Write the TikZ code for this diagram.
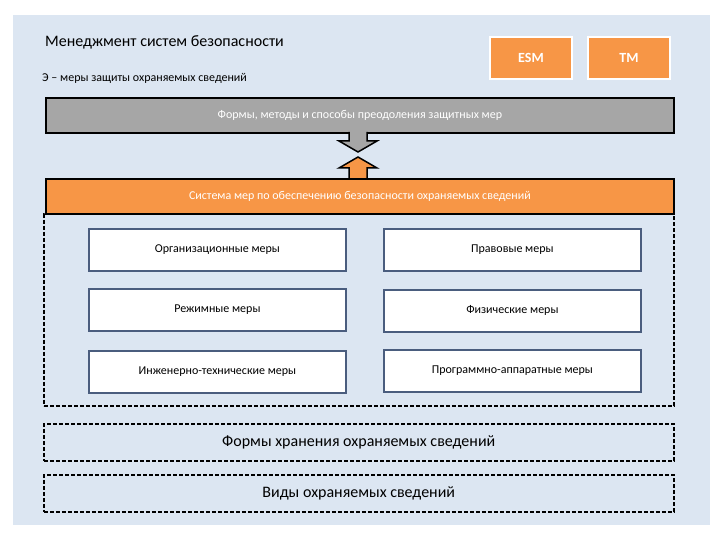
\documentclass[tikz,border=0pt]{standalone}
\usepackage{fontspec}
\setmainfont{Carlito}
\begin{document}
\begin{tikzpicture}[x=1pt,y=-1pt,
  inbox/.style={draw=boxb,line width=1.8pt,fill=white,minimum width=257pt,minimum height=42pt,font=\fontsize{12}{14}\selectfont,anchor=north west},
  dbox/.style={draw=black,dash pattern=on 4pt off 2pt,line width=1.5pt,anchor=north west},
  bar/.style={draw=black,line width=1.8pt,minimum width=628pt,minimum height=35pt,anchor=north west,text=white,font=\fontsize{12}{14}\selectfont},
  tag/.style={fill=orange0,draw=white,line width=2pt,minimum width=82pt,minimum height=42pt,anchor=north west,text=white,font=\bfseries\fontsize{14}{16}\selectfont}]
\definecolor{bg}{HTML}{DCE6F2}
\definecolor{orange0}{HTML}{F79646}
\definecolor{boxb}{HTML}{4A5D7E}
\fill[white] (0,0) rectangle (720,540);
\fill[bg] (13,15) rectangle (710,525);
\node[anchor=west,font=\fontsize{16}{18}\selectfont,inner sep=0pt] (title) at (45,42) {Менеджмент систем безопасности};
\node[anchor=west,font=\fontsize{12}{14}\selectfont,inner sep=0pt] (sub) at (42,78) {Э – меры защиты охраняемых сведений};
\node[tag] (esm) at (489,36) {ESM};
\node[tag] (tm) at (587,36) {TM};
\node[bar,fill=black!35] (g) at (45,97) {Формы, методы и способы преодоления защитных мер};
\node[bar,fill=orange0] (o) at (45,178) {Система мер по обеспечению безопасности охраняемых сведений};
\node[dbox,minimum width=630pt,minimum height=192pt] (cont) at (43,213) {};
\draw[line width=1.5pt,fill=black!35] (349,132) -- (349,141) -- (339,141) -- (358,152) -- (377,141) -- (367,141) -- (367,132);
\draw[line width=1.5pt,fill=orange0] (349,178) -- (349,168) -- (339,168) -- (358,157) -- (377,168) -- (367,168) -- (367,178);
\node[inbox] (a1) at (88,228) {Организационные меры};
\node[inbox] (b1) at (383,228) {Правовые меры};
\node[inbox] (a2) at (88,288) {Режимные меры};
\node[inbox] (b2) at (383,289) {Физические меры};
\node[inbox] (a3) at (88,350) {Инженерно-технические меры};
\node[inbox] (b3) at (383,349) {Программно-аппаратные меры};
\node[dbox,minimum width=630pt,minimum height=37pt,font=\fontsize{16}{18}\selectfont] (f) at (43,423) {Формы хранения охраняемых сведений};
\node[dbox,minimum width=630pt,minimum height=37pt,font=\fontsize{16}{18}\selectfont] (v) at (43,474) {Виды охраняемых сведений};
\end{tikzpicture}
\end{document}
